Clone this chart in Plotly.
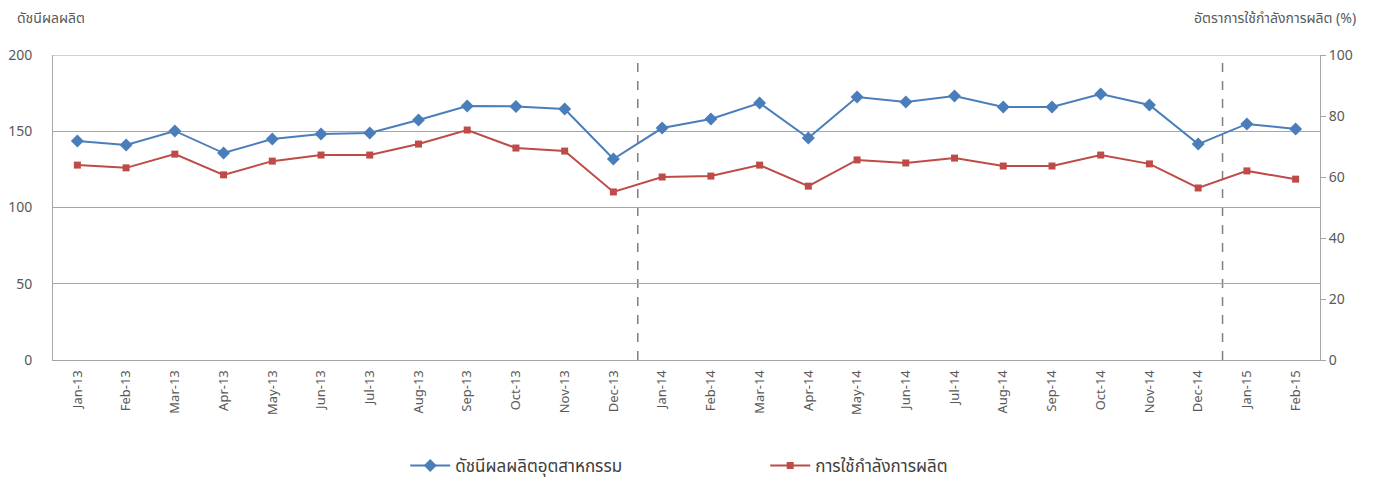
import plotly.graph_objects as go

months = ["Jan-13","Feb-13","Mar-13","Apr-13","May-13","Jun-13","Jul-13","Aug-13","Sep-13","Oct-13","Nov-13","Dec-13",
          "Jan-14","Feb-14","Mar-14","Apr-14","May-14","Jun-14","Jul-14","Aug-14","Sep-14","Oct-14","Nov-14","Dec-14",
          "Jan-15","Feb-15"]
mpi = [143.6,141.0,150.2,135.7,144.9,148.2,148.9,157.4,166.6,166.3,164.6,131.8,
       152.1,158.0,168.5,145.6,172.5,169.2,173.1,165.9,165.9,174.4,167.2,141.6,
       154.8,151.5]
capu = [63.9,63.0,67.5,60.7,65.2,67.2,67.2,70.8,75.4,69.5,68.5,55.1,
        60.0,60.3,63.9,57.0,65.6,64.6,66.2,63.6,63.6,67.2,64.3,56.4,
        62.0,59.3]
name_mpi = "ดัชนีผลผลิตอุตสาหกรรม"
name_capu = "การใช้กำลังการผลิต"
left_title = "ดัชนีผลผลิต"
right_title = "อัตราการใช้กำลังการผลิต (%)"
year_breaks = [11.5, 23.5]

FONT = "Tahoma, 'Noto Sans Thai', 'Noto Sans', sans-serif"
GRAY = "#595959"

fig = go.Figure()
fig.add_trace(go.Scatter(x=months, y=mpi, name=name_mpi, mode="lines+markers",
                         line=dict(color="#4a7ebb", width=2),
                         marker=dict(symbol="diamond", size=10, color="#4a7ebb")))
fig.add_trace(go.Scatter(x=months, y=capu, name=name_capu, mode="lines+markers", yaxis="y2",
                         line=dict(color="#be4b48", width=2),
                         marker=dict(symbol="square", size=7, color="#be4b48")))

for xb in year_breaks:
    fig.add_shape(type="line", xref="x", yref="paper", x0=xb, x1=xb, y0=0, y1=1,
                  line=dict(color="#7f7f7f", width=1.5, dash="dash"), layer="below")
fig.add_shape(type="line", xref="paper", yref="y", x0=0, x1=1, y0=200, y1=200,
              line=dict(color="#a6a6a6", width=1), layer="below")

fig.update_layout(
    width=1376, height=476,
    margin=dict(l=45, r=64, t=47, b=124, autoexpand=False),
    paper_bgcolor="white", plot_bgcolor="white",
    font=dict(family=FONT, color=GRAY, size=13),
    showlegend=True,
    legend=dict(orientation="h", x=0.278, xanchor="left", yref="container", y=0.0, yanchor="bottom",
                font=dict(size=17, color="#404040"), itemwidth=40, entrywidth=305),
    xaxis=dict(type="category", tickangle=-90, tickfont=dict(size=13, color=GRAY),
               showline=True, linecolor="#a6a6a6", linewidth=1, showgrid=False, automargin=False,
               range=[-0.5, len(months)-0.5], ticks="", ticklen=0, ticklabelstandoff=4),
    yaxis=dict(range=[0, 200], dtick=50, showgrid=True, gridcolor="#a6a6a6", gridwidth=1,
               showline=True, linecolor="#a6a6a6", zeroline=False, automargin=False,
               tickfont=dict(size=14, color=GRAY), ticks="", ticklabelstandoff=17),
    yaxis2=dict(range=[0, 100], dtick=20, overlaying="y", side="right", showgrid=False,
                showline=True, linecolor="#a6a6a6", zeroline=False, automargin=False,
                ticks="outside", ticklen=5, tickcolor="#a6a6a6",
                tickfont=dict(size=14, color=GRAY)),
    annotations=[
        dict(text=left_title, xref="paper", yref="paper", x=-0.030, y=1.12, xanchor="left", yanchor="middle",
             showarrow=False, font=dict(size=14, color=GRAY)),
        dict(text=right_title, xref="paper", yref="paper", x=1.03, y=1.12, xanchor="right", yanchor="middle",
             showarrow=False, font=dict(size=14, color=GRAY)),
    ],
)

fig.write_html("out.html")
